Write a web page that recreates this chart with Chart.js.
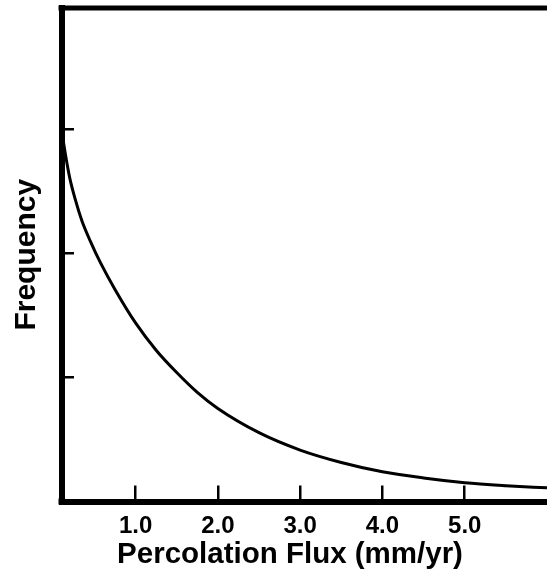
<!DOCTYPE html>
<html>
<head>
<meta charset="utf-8">
<script src="https://cdn.jsdelivr.net/npm/chart.js@4/dist/chart.umd.min.js"></script>
<style>
  html, body { margin: 0; padding: 0; background: #fff; }
  #c { display: block; }
</style>
</head>
<body>
<canvas id="c" width="547" height="572"></canvas>
<script>
// ---- data ----
const fluxValues      = [0.11, 0.15, 0.20, 0.27, 0.35, 0.45, 0.57, 0.75, 1.00, 1.25, 1.50, 1.75, 2.00, 2.50, 3.00, 3.50, 4.00, 4.50, 5.00, 5.50, 6.00];
const frequencyValues = [2.96, 2.79, 2.61, 2.43, 2.26, 2.10, 1.93, 1.71, 1.44, 1.22, 1.04, 0.88, 0.75, 0.555, 0.415, 0.315, 0.24, 0.19, 0.152, 0.128, 0.11];
const xTickValues = [1, 2, 3, 4, 5];
const yTickValues = [1, 2, 3];
const xAxisTitle = 'Percolation Flux (mm/yr)';
const yAxisTitle = 'Frequency';

const points = fluxValues.map((x, i) => ({ x: x, y: frequencyValues[i] }));

const framePlugin = {
  id: 'frame',
  afterDraw(chart) {
    const ctx = chart.ctx;
    const a = chart.chartArea;
    ctx.save();
    ctx.fillStyle = '#000';
    // top border
    ctx.fillRect(a.left - 3, a.top - 2.5, chart.width - (a.left - 3), 5);
    // lower-left corner fill
    ctx.fillRect(a.left - 3, a.bottom - 3, 6, 6);
    // x axis title
    ctx.font = 'bold 29.5px "Liberation Sans", Arial, sans-serif';
    ctx.textAlign = 'center';
    ctx.textBaseline = 'alphabetic';
    ctx.fillText(xAxisTitle, a.left + 228.5, a.bottom + 61.5);
    ctx.restore();
  }
};

new Chart(document.getElementById('c'), {
  type: 'line',
  data: {
    datasets: [{
      data: points,
      borderColor: '#000',
      borderWidth: 3,
      pointRadius: 0,
      fill: false,
      cubicInterpolationMode: 'monotone'
    }]
  },
  options: {
    responsive: false,
    devicePixelRatio: 1,
    animation: false,
    layout: { padding: { top: 8, left: 0, right: 0, bottom: 0 } },
    plugins: { legend: { display: false }, tooltip: { enabled: false } },
    scales: {
      x: {
        type: 'linear',
        min: 0.1,
        max: 6.0,
        afterBuildTicks: s => { s.ticks = xTickValues.map(v => ({ value: v })); },
        afterFit: s => { s.height = 70.5; },
        border: { display: true, color: '#000', width: 6 },
        grid: { display: true, drawOnChartArea: false, drawTicks: true, tickLength: -16, lineWidth: 2.5, color: '#000' },
        ticks: {
          color: '#000',
          padding: 26,
          maxRotation: 0,
          font: { family: '"Liberation Sans", Arial, sans-serif', weight: 'bold', size: 24 },
          callback: v => Number(v).toFixed(1)
        }
      },
      y: {
        type: 'linear',
        min: 0,
        max: 3.98,
        afterBuildTicks: s => { s.ticks = yTickValues.map(v => ({ value: v })); },
        afterFit: s => { s.width = 61.5; },
        border: { display: true, color: '#000', width: 6 },
        grid: { display: true, drawOnChartArea: false, drawTicks: true, tickLength: -12.5, lineWidth: 2.5, color: '#000' },
        ticks: { display: false },
        title: {
          display: true,
          text: yAxisTitle,
          color: '#000',
          padding: { top: 9, bottom: 0 },
          font: { family: '"Liberation Sans", Arial, sans-serif', weight: 'bold', size: 30 }
        }
      }
    }
  },
  plugins: [framePlugin]
});
</script>
</body>
</html>
